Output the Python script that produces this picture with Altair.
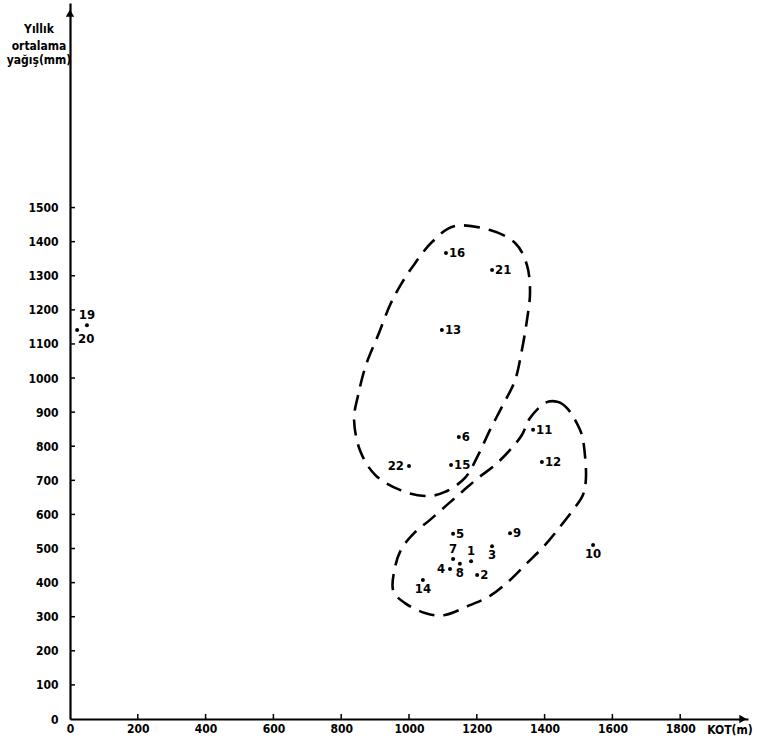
import altair as alt
import pandas as pd

# ---- data ----
station = ["1", "2", "3", "4", "5", "6", "7", "8", "9", "10", "11", "12",
           "13", "14", "15", "16", "19", "20", "21", "22"]
kot = [1183, 1201, 1245, 1121, 1130, 1147, 1130, 1150, 1298, 1543, 1366, 1392,
       1097, 1041, 1124, 1109, 50, 21, 1245, 1000]
yagis = [463, 422, 507, 440, 543, 827, 469, 455, 545, 510, 848, 754,
         1141, 408, 745, 1367, 1155, 1141, 1317, 742]
label_side = ["above", "right", "below", "left", "right", "right", "above", "below",
              "right", "below", "right", "right", "right", "below", "right", "right",
              "above", "belowright", "right", "left"]

upper_kot = [1136, 1239, 1313, 1348, 1357, 1348, 1333, 1313, 1277, 1239, 1204, 1165,
             1106, 1047, 973, 900, 855, 838, 850, 873, 909, 944, 979, 1018, 1068]
upper_yagis = [1446, 1434, 1396, 1331, 1252, 1170, 1082, 994, 921, 848, 774, 707,
               666, 654, 672, 716, 789, 877, 950, 1038, 1126, 1214, 1279, 1337, 1399]

lower_kot = [1401, 1440, 1466, 1490, 1510, 1519, 1522, 1513, 1484, 1445, 1401, 1348,
             1292, 1239, 1180, 1106, 1047, 988, 953, 959, 979, 1018, 1062, 1112, 1156,
             1204, 1254, 1298, 1333, 1357]
lower_yagis = [927, 930, 912, 877, 833, 774, 707, 657, 613, 563, 510, 457,
               402, 361, 334, 305, 311, 340, 378, 446, 501, 548, 584, 628, 666,
               707, 745, 789, 833, 883]

x_ticks = [0, 200, 400, 600, 800, 1000, 1200, 1400, 1600, 1800]
y_ticks = [0, 100, 200, 300, 400, 500, 600, 700, 800, 900, 1000, 1100, 1200,
           1300, 1400, 1500]
x_domain = [0, 2000]
y_domain = [0, 2100]
y_title_lines = ["Yıllık", "ortalama", "yağış(mm)"]
x_title = "KOT(m)"

FONT = "DejaVu Sans Condensed"
W, H = 678, 716

pts = pd.DataFrame({"station": station, "kot": kot, "yagis": yagis, "side": label_side})
loops = pd.concat([
    pd.DataFrame({"kot": upper_kot, "yagis": upper_yagis, "loop": "upper",
                  "ord": range(len(upper_kot))}),
    pd.DataFrame({"kot": lower_kot, "yagis": lower_yagis, "loop": "lower",
                  "ord": range(len(lower_kot))}),
])

xs = alt.Scale(domain=x_domain, nice=False, zero=False)
ys = alt.Scale(domain=y_domain, nice=False, zero=False)

x_axis = alt.Axis(values=x_ticks, format="d", title=None, grid=False, ticks=False,
                  domainColor="black", domainWidth=2.2, labelPadding=4,
                  labelFont=FONT, labelFontSize=12, labelFontWeight="bold",
                  labelColor="black", labelFlush=False)
y_axis = alt.Axis(values=y_ticks, format="d", title=None, grid=False, ticks=False,
                  domainColor="black", domainWidth=2.2, labelPadding=12,
                  labelFont=FONT, labelFontSize=12, labelFontWeight="bold",
                  labelColor="black", labelFlush=False)

X = lambda f: alt.X(f, scale=xs, axis=x_axis)
Y = lambda f: alt.Y(f, scale=ys, axis=y_axis)

base = alt.Chart(pts).encode(x=X("kot:Q"), y=Y("yagis:Q"))

dots = base.mark_circle(size=16, color="black", opacity=1)

def labels(side, **kw):
    return base.transform_filter(alt.datum.side == side).mark_text(
        font=FONT, fontSize=13, fontWeight="bold", color="black", **kw
    ).encode(text="station:N")

lab_right = labels("right", align="left", baseline="middle", dx=3)
lab_left = labels("left", align="right", baseline="middle", dx=-5)
lab_above = labels("above", align="center", baseline="bottom", dy=-3)
lab_below = labels("below", align="center", baseline="top", dy=3)
lab_br = labels("belowright", align="left", baseline="top", dx=1, dy=3)

curves = alt.Chart(loops).mark_line(
    color="black", strokeWidth=2.6, strokeDash=[16, 9], interpolate="cardinal-closed"
).encode(
    x=X("kot:Q"),
    y=Y("yagis:Q"),
    detail="loop:N",
    order="ord:Q",
)

ytick_df = pd.DataFrame({"v": y_ticks[1:]})
ytick_marks = alt.Chart(ytick_df).mark_rule(color="black", strokeWidth=1.5).encode(
    y=Y("v:Q"), x=alt.value(0), x2=alt.value(5)
)
xtick_df = pd.DataFrame({"v": x_ticks[1:]})
xtick_marks = alt.Chart(xtick_df).mark_rule(color="black", strokeWidth=1.5).encode(
    x=X("v:Q"), y=alt.value(H), y2=alt.value(H - 5)
)

arrow_x = alt.Chart(pd.DataFrame({"kot": [x_domain[1] - 15], "yagis": [0]})).mark_point(
    shape="triangle-right", filled=True, color="black", size=70, opacity=1
).encode(x=X("kot:Q"), y=Y("yagis:Q"))
arrow_y = alt.Chart(pd.DataFrame({"kot": [0], "yagis": [y_domain[1] - 30]})).mark_point(
    shape="triangle-up", filled=True, color="black", size=70, opacity=1
).encode(x=X("kot:Q"), y=Y("yagis:Q"))

title_y = [26, 43, 57]
ytitles = [
    alt.Chart(pd.DataFrame({"t": [line]})).mark_text(
        font=FONT, fontSize=12, fontWeight="bold", color="black", align="center",
        baseline="middle"
    ).encode(text="t:N", x=alt.value(-31), y=alt.value(ty))
    for line, ty in zip(y_title_lines, title_y)
]

xtitle = alt.Chart(pd.DataFrame({"t": [x_title]})).mark_text(
    font=FONT, fontSize=12, fontWeight="bold", color="black", align="center",
    baseline="middle"
).encode(text="t:N", x=alt.value(660), y=alt.value(H + 11))

chart = alt.layer(
    curves, xtick_marks, ytick_marks, dots, lab_right, lab_left, lab_above,
    lab_below, lab_br, arrow_x, arrow_y, *ytitles, xtitle
).properties(
    width=W, height=H,
    autosize=alt.AutoSizeParams(type="none"),
    padding={"left": 70, "top": 3, "right": 9, "bottom": 21},
    background="white",
).configure_view(stroke=None).configure_axis(grid=False, title=None)

chart.save("out.html", embed_options={"renderer": "svg", "actions": False})
